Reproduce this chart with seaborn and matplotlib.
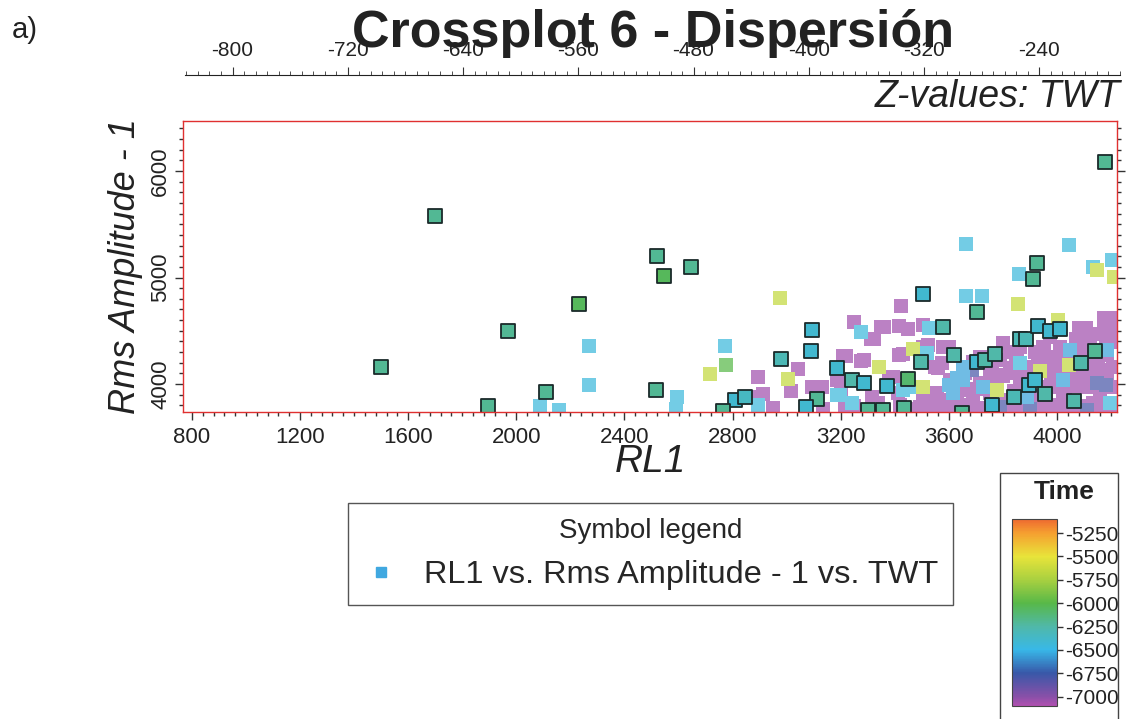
import matplotlib
matplotlib.use("Agg")
import matplotlib.pyplot as plt
import numpy as np
from matplotlib.colors import LinearSegmentedColormap, Normalize, to_rgb
from matplotlib.lines import Line2D
from matplotlib.patches import Rectangle
from matplotlib.ticker import MultipleLocator
import pandas as pd
import seaborn as sns

# DATA
# outlined (picked) points: RL1, Rms Amplitude - 1, TWT
hl_rl1 = [1699, 1499, 1969, 2232, 2110, 1895, 2520, 2546, 2517, 2646, 4178, 3926, 3912,
          3505, 3705, 3094, 3090, 2979, 2809, 2846, 2765, 3112, 3072, 3186, 3579, 3242,
          3286, 3372, 3449, 3498, 3619, 3705, 3735, 3772, 3862, 3885, 3930, 3975, 4012,
          4142, 4090, 3895, 3920, 3956, 3840, 3758, 4062, 3649, 3434, 3357, 3301]
hl_rms = [5578, 4160, 4498, 4751, 3925, 3793, 5202, 5014, 3944, 5099, 6085, 5136, 4986,
          4845, 4676, 4507, 4310, 4235, 3850, 3878, 3746, 3859, 3784, 4150, 4535, 4038,
          4009, 3981, 4047, 4207, 4272, 4207, 4225, 4282, 4423, 4423, 4545, 4498, 4516,
          4310, 4197, 3990, 4038, 3906, 3878, 3803, 3840, 3728, 3775, 3756, 3756]
hl_twt = [-6200, -6200, -6200, -6050, -6200, -6200, -6200, -6050, -6200, -6200, -6200, -6200, -6200,
          -6400, -6200, -6400, -6400, -6300, -6400, -6350, -6200, -6200, -6400, -6400, -6250, -6250,
          -6400, -6400, -6100, -6250, -6250, -6400, -6250, -6250, -6300, -6300, -6400, -6400, -6400,
          -6200, -6250, -6400, -6400, -6250, -6300, -6400, -6250, -6200, -6200, -6200, -6200]

# remaining points, one group per colour (TWT)
cyan_rl1 = [2269, 2269, 2594, 2591, 2088, 2158, 3664, 4045, 3860, 4133, 4204, 3664, 3723, 2772,
            2894, 3186, 3275, 3198, 3242, 3431, 3483, 3527, 3520, 3864, 4197]
cyan_rms = [4357, 3990, 3878, 3765, 3793, 3756, 5315, 5305, 5033, 5099, 5164, 4826, 4826, 4357,
            3803, 3897, 4488, 3897, 3822, 3944, 3972, 4526, 4291, 4197, 3822]
blue_rl1 = [3631, 3653, 3616, 4049, 4186, 3653, 4023, 3890, 3727, 3600]
blue_rms = [4056, 4160, 3915, 4319, 4319, 4038, 4038, 3878, 3972, 3990]
violet_rl1 = [3686, 4149, 4112, 3790, 3900, 4180]
violet_rms = [4131, 4009, 3756, 3784, 3760, 3990]
yellow_rl1 = [2976, 3856, 4149, 4211, 2717, 3005, 3342, 3468, 3505, 4004, 4045, 3938, 3779]
yellow_rms = [4808, 4751, 5070, 5005, 4094, 4047, 4160, 4329, 3972, 4601, 4178, 4122, 3944]
green_rl1 = [2776]
green_rms = [4178]
magenta_rl1 = [
    2894, 2913, 3042, 3016, 3094, 3186, 3209, 3249, 3312, 3349, 3416, 3449, 3505, 3423, 3275,
    3379, 3416, 3505, 3579, 3549, 4082, 4174, 4215, 3360, 3323, 3220, 3286, 3431, 3523, 3601,
    3575, 3560, 3394, 3201, 3201, 3131, 3316, 3216, 3338, 3412, 3505, 3557, 3605, 3642, 3494,
    3568, 3631, 3668, 3420, 4108, 4186, 3975, 4012, 4104, 3864, 3827, 3919, 3956, 4049, 4186,
    4208, 3790, 3753, 3716, 3827, 3890, 4000, 4049, 4134, 4186, 3716, 3764, 3864, 3975, 4023,
    4112, 4160, 4208, 3690, 3753, 3816, 3912, 4012, 4134, 3716, 3827, 3949, 4049, 4134, 4208,
    3801, 3690, 3135, 3250, 3460, 3540, 3600, 3680, 3780, 3870, 3990, 4090, 4170, 4150, 4100,
    4060, 3930, 3980, 3850, 3930, 4180, 4200, 4150, 3700, 3620, 3760, 3830, 3950, 3890, 4070,
    3840, 3580, 3520, 3640, 3800, 4120, 4170, 2870, 2950, 4205, 4175, 4120, 4065, 4000, 3950,
    3905, 4150, 4210, 4090, 3870, 3660, 3960, 4030, 4160,
]
magenta_rms = [
    4066, 3906, 4141, 3934, 3972, 4038, 4263, 4582, 4423, 4535, 4545, 4516, 4554, 4732, 4216,
    4066, 4272, 4347, 4347, 4160, 4526, 4620, 4573, 4535, 4423, 4263, 4225, 4282, 4366, 4347,
    4197, 4150, 4066, 4038, 3925, 3972, 3878, 3775, 3822, 3915, 3878, 3915, 4038, 4038, 3784,
    3803, 3850, 3944, 3803, 4526, 4441, 4441, 4347, 4394, 4347, 4300, 4300, 4244, 4254, 4272,
    4160, 4225, 4131, 4254, 4103, 4160, 4131, 4066, 4131, 4066, 4009, 4038, 4009, 3972, 3915,
    3972, 3915, 3972, 3878, 3915, 3850, 3822, 3803, 3822, 3775, 3775, 3756, 3756, 3775, 3756,
    4385, 4207, 3760, 3790, 3760, 3760, 3770, 3760, 3760, 3760, 3780, 3790, 3790, 4200, 4060,
    3980, 3890, 4050, 4260, 4190, 4380, 4480, 4470, 3950, 3990, 4170, 4150, 4350, 4080, 4420,
    3930, 3850, 3800, 3800, 4080, 4250, 4130, 3880, 3770, 4400, 4540, 4350, 4300, 4250, 4150,
    4120, 4300, 4620, 4100, 4110, 4100, 3840, 3860, 3860,
]
group_twt = {"cyan": -6450, "blue": -6560, "violet": -6800, "yellow": -5650,
             "green": -6000, "magenta": -7060}

# colour scale of the Time legend
time_ticks = [-5250, -5500, -5750, -6000, -6250, -6500, -6750, -7000]
time_min, time_max = -7100, -5100
cmap_colors = ["#b050b0", "#8850a8", "#3858a8", "#38b8e8", "#50b8a8",
               "#58b848", "#a8d040", "#e8e43a", "#f5a030", "#ee6a30"]
cmap_pos = [0.0, 0.05, 0.175, 0.3, 0.425, 0.55, 0.675, 0.8, 0.925, 1.0]

top_min, top_max = -833, -184

sns.set_style("ticks")
plt.rcParams["font.family"] = ["Liberation Sans", "DejaVu Sans"]
plt.rcParams["axes.unicode_minus"] = False

cmap = LinearSegmentedColormap.from_list("time", list(zip(cmap_pos, cmap_colors)))
# unpicked points are drawn in a washed-out version of the same scale
faded = [tuple(0.72 * np.array(to_rgb(c)) + 0.28) for c in cmap_colors]
cmap_faded = LinearSegmentedColormap.from_list("time_faded", list(zip(cmap_pos, faded)))
norm = Normalize(time_min, time_max)

groups = {"cyan": (cyan_rl1, cyan_rms), "blue": (blue_rl1, blue_rms),
          "violet": (violet_rl1, violet_rms), "yellow": (yellow_rl1, yellow_rms),
          "green": (green_rl1, green_rms), "magenta": (magenta_rl1, magenta_rms)}
frames = []
for name in ["magenta", "violet", "blue", "cyan", "green", "yellow"]:
    x, y = groups[name]
    frames.append(pd.DataFrame({"RL1": x, "Rms": y, "TWT": group_twt[name]}))
df = pd.concat(frames, ignore_index=True)
df_hl = pd.DataFrame({"RL1": hl_rl1, "Rms": hl_rms, "TWT": hl_twt})

fig = plt.figure(figsize=(11.3, 7.19), dpi=100)
ax = fig.add_axes([183 / 1130, 1 - 412 / 719, 934 / 1130, 291 / 719])

sns.scatterplot(data=df, x="RL1", y="Rms", hue="TWT", palette=cmap_faded, hue_norm=norm,
                marker="s", s=105, linewidth=0, legend=False, ax=ax)
sns.scatterplot(data=df_hl, x="RL1", y="Rms", hue="TWT", palette=cmap, hue_norm=norm,
                marker="s", s=100, edgecolor="#1a2a2a", linewidth=1.3, legend=False, ax=ax)

ax.set_xlim(767, 4222)
ax.set_ylim(3737, 6470)
ax.xaxis.set_major_locator(MultipleLocator(400))
ax.xaxis.set_minor_locator(MultipleLocator(40))
ax.yaxis.set_major_locator(MultipleLocator(1000))
ax.yaxis.set_minor_locator(MultipleLocator(100))
ax.tick_params(which="both", direction="out", color="#333333", width=1,
               left=True, right=True, bottom=True, top=False, labelsize=16, labelcolor="#222222")
ax.tick_params(which="major", length=5.5)
ax.tick_params(which="minor", length=3)
ax.tick_params(axis="y", pad=3)
ax.tick_params(axis="x", pad=5)
plt.setp(ax.get_yticklabels(), rotation=90, va="center")
for sp in ax.spines.values():
    sp.set_visible(True)
    sp.set_color("#e03030")
    sp.set_linewidth(1)

ax.set_xlabel("RL1", fontsize=28, style="italic", color="#222222")
ax.xaxis.set_label_coords(0.5, -0.172)
ax.xaxis.label.set_va("center")
ax.set_ylabel("Rms Amplitude - 1", fontsize=26, style="italic", color="#222222")
ax.yaxis.set_label_coords(-0.062, 0.5)
ax.yaxis.label.set_va("center")

# secondary TWT axis on top
tax = fig.add_axes([185 / 1130, 1 - 75 / 719, 935 / 1130, 0.0001])
tax.set_xlim(top_min, top_max)
tax.set_yticks([])
for name, sp in tax.spines.items():
    sp.set_visible(name == "top")
tax.spines["top"].set_color("#222222")
tax.xaxis.set_major_locator(MultipleLocator(80))
tax.xaxis.set_minor_locator(MultipleLocator(8))
tax.tick_params(axis="x", which="both", top=True, bottom=False, labeltop=True,
                labelbottom=False, direction="out", color="#333333", labelsize=15,
                labelcolor="#222222", pad=5)
tax.tick_params(axis="x", which="major", length=5.5)
tax.tick_params(axis="x", which="minor", length=3)

fig.text(1120 / 1130, 1 - 97 / 719, "Z-values: TWT", fontsize=27, style="italic",
         ha="right", va="center", color="#222222")
fig.text(653 / 1130, 1 - 47 / 719, "Crossplot 6 - Dispersión", fontsize=37.5,
         fontweight="bold", ha="center", va="baseline", color="#222222")
fig.text(12 / 1130, 1 - 38 / 719, "a)", fontsize=21, ha="left", va="baseline", color="#222222")

# symbol legend
handle = Line2D([], [], marker="s", linestyle="none", markersize=7, color="#40a8e0")
leg = fig.legend([handle], ["RL1 vs. Rms Amplitude - 1 vs. TWT"], title="Symbol legend",
                 loc="upper left", bbox_to_anchor=(348 / 1130, 1 - 503 / 719),
                 fontsize=23.4, title_fontsize=20, fancybox=False, framealpha=1,
                 edgecolor="#555555", handletextpad=0.8, borderpad=0.45, handlelength=1.1,
                 borderaxespad=0)
leg.get_frame().set_linewidth(1)

# Time colour legend
fig.patches.append(Rectangle((1000 / 1130, -0.01), 118 / 1130, (719 - 473) / 719 + 0.01,
                             transform=fig.transFigure, fill=False, edgecolor="#444444", lw=1))
fig.text(1064 / 1130, 1 - 492 / 719, "Time", fontsize=19, fontweight="bold", ha="center",
         va="center", color="#222222")
cax = fig.add_axes([1012 / 1130, 1 - 706 / 719, 45 / 1130, 187 / 719])
sm = plt.cm.ScalarMappable(norm=norm, cmap=cmap)
cb = fig.colorbar(sm, cax=cax, ticks=time_ticks)
cb.outline.set_edgecolor("#444444")
cb.ax.tick_params(labelsize=15, length=4, width=1, color="#333333", pad=2, labelcolor="#222222")

fig.savefig("out.png", dpi=100)
